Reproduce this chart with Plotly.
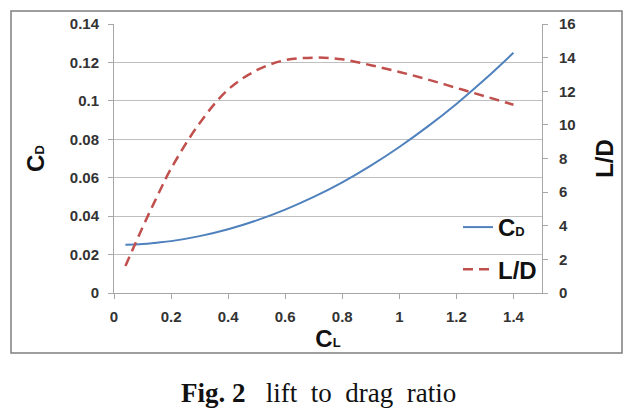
import plotly.graph_objects as go

# Data
cl = [0.04, 0.1, 0.15, 0.2, 0.3, 0.4, 0.5, 0.6, 0.7, 0.8, 0.9, 1.0, 1.1, 1.2, 1.3, 1.4]
cd = [0.0251, 0.0255, 0.0262, 0.0270, 0.0296, 0.0332, 0.0378, 0.0434, 0.0500,
      0.0576, 0.0663, 0.0760, 0.0867, 0.0984, 0.1112, 0.1250]
ld = [1.6, 3.9, 5.7, 7.4, 10.1, 12.1, 13.25, 13.85, 14.0, 13.9, 13.55, 13.15,
      12.7, 12.2, 11.7, 11.2]
x_ticks = [0, 0.2, 0.4, 0.6, 0.8, 1.0, 1.2, 1.4]

# page has an 8px body margin, so work in page pixels and shift
OFF = 8
W, H = 642 - OFF, 411 - OFF
L, R, T, B = 114 - OFF, 642 - 542, 24 - OFF, 411 - 293
pw, ph = W - L - R, H - T - B


def px(x):
    return (x - OFF - L) / pw


def py(y):
    return (H - B - (y - OFF)) / ph


sub = '<span style="font-size:13px">{}</span>'

fig = go.Figure()

fig.add_trace(go.Scatter(
    x=cl, y=cd, name='C' + sub.format('D'), mode='lines', line_shape='spline',
    line=dict(color='#4F81BD', width=2), legendgroup='a'
))
fig.add_trace(go.Scatter(
    x=cl, y=ld, name='L/D', mode='lines', line_shape='spline', yaxis='y2',
    line=dict(color='#C0504D', width=2.5, dash='10px,6px'), legendgroup='b'
))

tick_font = dict(family='Liberation Sans', size=15, color='#333333', weight='bold')
title_font = dict(family='Liberation Sans', size=24, color='#111111', weight='bold')

fig.update_layout(
    width=W, height=H,
    margin=dict(l=L, r=R, t=T, b=B),
    paper_bgcolor='white', plot_bgcolor='white',
    showlegend=True,
    legend=dict(x=px(542), y=py(205), xanchor='right', yanchor='top',
                bgcolor='rgba(0,0,0,0)', tracegroupgap=8, itemwidth=30,
                font=dict(family='Liberation Sans', size=24, color='#111111', weight='bold')),
    xaxis=dict(range=[0, 1.5], tickvals=x_ticks, showgrid=False, zeroline=False,
               showline=True, linecolor='#a6a6a6', linewidth=1,
               ticks='outside', ticklen=5, tickcolor='#a6a6a6',
               ticklabelstandoff=5, tickfont=tick_font, automargin=False,
               title=dict(text='C' + sub.format('L'), font=title_font, standoff=0)),
    yaxis=dict(range=[0, 0.14], dtick=0.02, showgrid=True, gridcolor='#bfbfbf',
               gridwidth=1, zeroline=False, showline=True, linecolor='#a6a6a6',
               ticks='outside', ticklen=5, tickcolor='#a6a6a6', automargin=False,
               ticklabelstandoff=6, tickfont=tick_font,
               title=dict(text='C' + sub.format('D'), font=title_font, standoff=18)),
    yaxis2=dict(range=[0, 16], dtick=2, overlaying='y', side='right',
                showgrid=False, zeroline=False, showline=True, linecolor='#a6a6a6',
                ticks='outside', ticklen=5, tickcolor='#a6a6a6', automargin=False,
                ticklabelstandoff=8, tickfont=tick_font,
                title=dict(text='L/D', font=title_font, standoff=20)),
)

# outer border around chart area
fig.add_shape(type='rect', xref='paper', yref='paper',
              x0=px(11), x1=px(622), y0=py(353), y1=py(11),
              line=dict(color='#7f7f7f', width=1.5), fillcolor='rgba(0,0,0,0)')

# caption
fig.add_annotation(
    x=px(318), y=py(393), xref='paper', yref='paper', showarrow=False,
    xanchor='center', yanchor='middle',
    text='<b>Fig.\u00a02</b>\u00a0\u00a0 lift\u00a0 to\u00a0 drag\u00a0 ratio',
    font=dict(family='Liberation Serif', size=27, color='#111111')
)

fig.write_html("out.html")
